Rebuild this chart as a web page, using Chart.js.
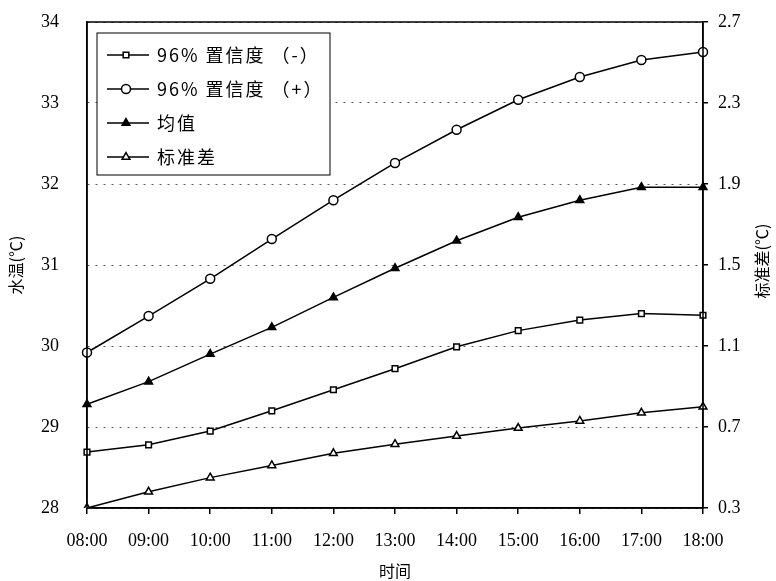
<!DOCTYPE html>
<html>
<head>
<meta charset="utf-8">
<script src="https://cdn.jsdelivr.net/npm/chart.js@4"></script>
<style>
  body { margin: 0; background: #fff; }
  #wrap { width: 776px; height: 581px; }
</style>
</head>
<body>
<div id="wrap"><canvas id="myChart" width="776" height="581"></canvas></div>
<script>
const times = ["08:00", "09:00", "10:00", "11:00", "12:00", "13:00", "14:00", "15:00", "16:00", "17:00", "18:00"];
const lowerCI = [28.69, 28.78, 28.95, 29.2, 29.46, 29.72, 29.99, 30.19, 30.32, 30.4, 30.38];
const upperCI = [29.92, 30.37, 30.83, 31.32, 31.8, 32.26, 32.67, 33.04, 33.32, 33.53, 33.63];
const meanTemp = [29.28, 29.56, 29.9, 30.23, 30.6, 30.96, 31.3, 31.59, 31.8, 31.96, 31.96];
const stdDev = [0.3, 0.38, 0.45, 0.51, 0.57, 0.615, 0.655, 0.695, 0.73, 0.77, 0.8];

const leftTicks = [28, 29, 30, 31, 32, 33, 34];
const rightTicks = [0.3, 0.7, 1.1, 1.5, 1.9, 2.3, 2.7];

const legendNames = ["96% 置信度 （-）", "96% 置信度 （+）", "均值", "标准差"];

const serif = "'Liberation Serif', 'DejaVu Serif', serif";
const cjk = "'Noto Sans CJK SC', 'Noto Sans', sans-serif";

function series(label, data, style, fill, axis) {
  return {
    label: label,
    data: data,
    yAxisID: axis,
    borderColor: "#000",
    borderWidth: 1.5,
    pointStyle: style,
    pointRadius: style === "rect" ? 4 : 4.5,
    pointBorderWidth: 1.5,
    pointBorderColor: "#000",
    pointBackgroundColor: fill,
    tension: 0,
  };
}

// frame, legend box and right-hand title
const extras = {
  id: "extras",
  afterDraw(chart) {
    const ctx = chart.ctx;
    const a = chart.chartArea;
    ctx.save();
    ctx.strokeStyle = "#000";
    ctx.lineWidth = 1.5;
    ctx.strokeRect(a.left, a.top, a.right - a.left, a.bottom - a.top);

    // legend inside plot
    const bx = a.left + 10, by = a.top + 11, bw = 233, bh = 142;
    ctx.fillStyle = "#fff";
    ctx.fillRect(bx, by, bw, bh);
    ctx.lineWidth = 1;
    ctx.strokeRect(bx, by, bw, bh);
    chart.data.datasets.forEach((ds, i) => {
      const y = by + 22 + i * 34;
      ctx.strokeStyle = "#000";
      ctx.lineWidth = 1.5;
      ctx.beginPath();
      ctx.moveTo(bx + 10, y);
      ctx.lineTo(bx + 52, y);
      ctx.stroke();
      ctx.fillStyle = ds.pointBackgroundColor;
      Chart.helpers.drawPoint(ctx, {
        pointStyle: ds.pointStyle,
        radius: ds.pointRadius,
        borderWidth: 1.5,
        rotation: 0,
      }, bx + 29, y);
      ctx.fillStyle = "#000";
      ctx.font = "18px " + cjk;
      ctx.letterSpacing = "2px";
      ctx.textAlign = "left";
      ctx.textBaseline = "middle";
      ctx.fillText(legendNames[i], bx + 60, y);
      ctx.letterSpacing = "0px";
    });

    // right axis title, reading bottom to top
    ctx.translate(762, (a.top + a.bottom) / 2 - 4);
    ctx.rotate(-Math.PI / 2);
    ctx.fillStyle = "#000";
    ctx.font = "16px " + cjk;
    ctx.textAlign = "center";
    ctx.textBaseline = "middle";
    ctx.fillText("标准差(℃)", 0, 0);
    ctx.restore();
  },
};

new Chart(document.querySelector("#myChart"), {
  type: "line",
  data: {
    labels: times,
    datasets: [
      series(legendNames[0], lowerCI, "rect", "#fff", "y"),
      series(legendNames[1], upperCI, "circle", "#fff", "y"),
      series(legendNames[2], meanTemp, "triangle", "#000", "y"),
      series(legendNames[3], stdDev, "triangle", "#fff", "y1"),
    ],
  },
  options: {
    responsive: false,
    animation: false,
    layout: { padding: { top: 22 } },
    plugins: {
      legend: { display: false },
      tooltip: { enabled: false },
    },
    scales: {
      x: {
        offset: false,
        afterFit(s) { s.height = 73; },
        grid: { drawOnChartArea: false, color: "#000", tickLength: 6, lineWidth: 1.5 },
        border: { color: "#000", width: 1.5 },
        ticks: { color: "#000", font: { family: serif, size: 18 }, padding: 16, maxRotation: 0, autoSkip: false },
        title: { display: true, text: "时间", color: "#000", font: { family: cjk, size: 16 }, padding: { top: 0, bottom: 0 } },
      },
      y: {
        position: "left",
        min: 28,
        max: 34,
        afterFit(s) { s.width = 87; },
        afterBuildTicks(s) { s.ticks = leftTicks.map(v => ({ value: v })); },
        grid: { color: "#555", lineWidth: 1, tickLength: 26, tickColor: "rgba(0,0,0,0)" },
        border: { color: "#000", width: 1.5, dash: [2, 6] },
        ticks: { color: "#000", font: { family: serif, size: 18 }, padding: 2 },
        title: { display: true, text: "水温(℃)", color: "#000", font: { family: cjk, size: 16 }, padding: { top: 6, bottom: 0 } },
      },
      y1: {
        position: "right",
        min: 0.3,
        max: 2.7,
        afterFit(s) { s.width = 73; },
        afterBuildTicks(s) { s.ticks = rightTicks.map(v => ({ value: v })); },
        grid: { drawOnChartArea: false, color: "#000", tickLength: 5, lineWidth: 1.5 },
        border: { color: "#000", width: 1.5 },
        ticks: { color: "#000", font: { family: serif, size: 18 }, padding: 10, callback: v => v.toFixed(1) },
      },
    },
  },
  plugins: [extras],
});
</script>
</body>
</html>
